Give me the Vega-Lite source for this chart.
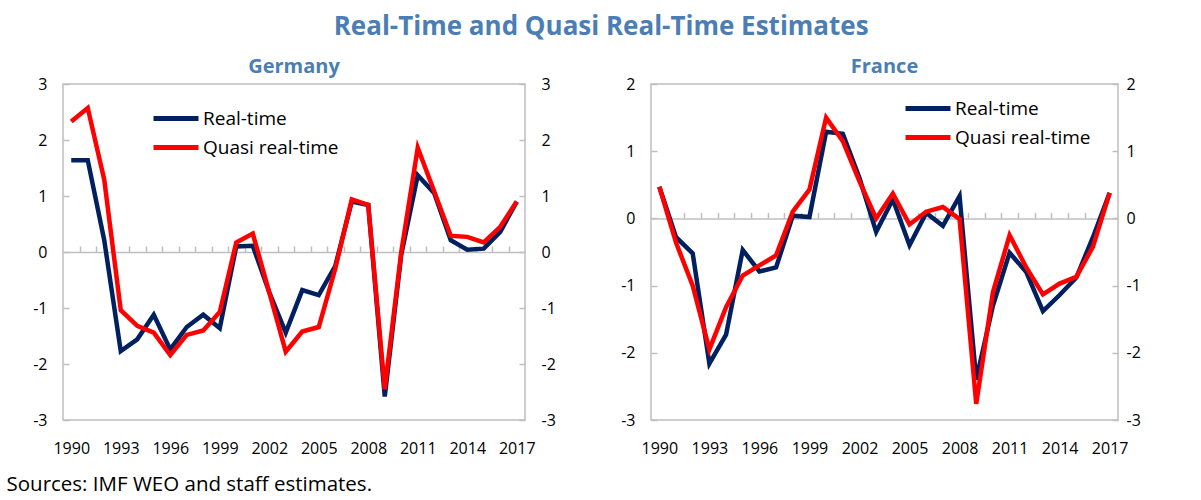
{
  "$schema": "https://vega.github.io/schema/vega-lite/v6.json",
  "background": "white",
  "padding": {"left": 5, "top": 14, "right": 10, "bottom": 5},
  "title": {"text": "Real-Time and Quasi Real-Time Estimates", "fontSize": 26, "font": "Open Sans", "fontWeight": "bold", "color": "#4A7EB5", "anchor": "middle", "offset": 16, "dx": 28},
  "config": {
    "font": "Open Sans",
    "view": {"stroke": "#BFBFBF", "strokeWidth": 1.5},
    "axis": {"grid": false, "labelFont": "Open Sans", "labelFontSize": 16, "labelColor": "black", "domainColor": "#BFBFBF", "tickColor": "#BFBFBF", "domainWidth": 1.5, "tickWidth": 1.5},
    "title": {"font": "Open Sans"}
  },
  "datasets": {
    "de": [
      {"year": 1990, "series": "Real-time", "value": 1.64},
      {"year": 1991, "series": "Real-time", "value": 1.64},
      {"year": 1992, "series": "Real-time", "value": 0.21},
      {"year": 1993, "series": "Real-time", "value": -1.77},
      {"year": 1994, "series": "Real-time", "value": -1.56},
      {"year": 1995, "series": "Real-time", "value": -1.12},
      {"year": 1996, "series": "Real-time", "value": -1.74},
      {"year": 1997, "series": "Real-time", "value": -1.34},
      {"year": 1998, "series": "Real-time", "value": -1.12},
      {"year": 1999, "series": "Real-time", "value": -1.36},
      {"year": 2000, "series": "Real-time", "value": 0.10},
      {"year": 2001, "series": "Real-time", "value": 0.11},
      {"year": 2002, "series": "Real-time", "value": -0.72},
      {"year": 2003, "series": "Real-time", "value": -1.44},
      {"year": 2004, "series": "Real-time", "value": -0.68},
      {"year": 2005, "series": "Real-time", "value": -0.77},
      {"year": 2006, "series": "Real-time", "value": -0.25},
      {"year": 2007, "series": "Real-time", "value": 0.90},
      {"year": 2008, "series": "Real-time", "value": 0.84},
      {"year": 2009, "series": "Real-time", "value": -2.58},
      {"year": 2010, "series": "Real-time", "value": -0.05},
      {"year": 2011, "series": "Real-time", "value": 1.37},
      {"year": 2012, "series": "Real-time", "value": 1.05},
      {"year": 2013, "series": "Real-time", "value": 0.21},
      {"year": 2014, "series": "Real-time", "value": 0.04},
      {"year": 2015, "series": "Real-time", "value": 0.06},
      {"year": 2016, "series": "Real-time", "value": 0.36},
      {"year": 2017, "series": "Real-time", "value": 0.90},
      {"year": 1990, "series": "Quasi real-time", "value": 2.33},
      {"year": 1991, "series": "Quasi real-time", "value": 2.57},
      {"year": 1992, "series": "Quasi real-time", "value": 1.29},
      {"year": 1993, "series": "Quasi real-time", "value": -1.04},
      {"year": 1994, "series": "Quasi real-time", "value": -1.32},
      {"year": 1995, "series": "Quasi real-time", "value": -1.44},
      {"year": 1996, "series": "Quasi real-time", "value": -1.84},
      {"year": 1997, "series": "Quasi real-time", "value": -1.48},
      {"year": 1998, "series": "Quasi real-time", "value": -1.40},
      {"year": 1999, "series": "Quasi real-time", "value": -1.07},
      {"year": 2000, "series": "Quasi real-time", "value": 0.17},
      {"year": 2001, "series": "Quasi real-time", "value": 0.33},
      {"year": 2002, "series": "Quasi real-time", "value": -0.72},
      {"year": 2003, "series": "Quasi real-time", "value": -1.78},
      {"year": 2004, "series": "Quasi real-time", "value": -1.42},
      {"year": 2005, "series": "Quasi real-time", "value": -1.34},
      {"year": 2006, "series": "Quasi real-time", "value": -0.30},
      {"year": 2007, "series": "Quasi real-time", "value": 0.94},
      {"year": 2008, "series": "Quasi real-time", "value": 0.84},
      {"year": 2009, "series": "Quasi real-time", "value": -2.45},
      {"year": 2010, "series": "Quasi real-time", "value": 0.0},
      {"year": 2011, "series": "Quasi real-time", "value": 1.86},
      {"year": 2012, "series": "Quasi real-time", "value": 1.08},
      {"year": 2013, "series": "Quasi real-time", "value": 0.29},
      {"year": 2014, "series": "Quasi real-time", "value": 0.27},
      {"year": 2015, "series": "Quasi real-time", "value": 0.17},
      {"year": 2016, "series": "Quasi real-time", "value": 0.45},
      {"year": 2017, "series": "Quasi real-time", "value": 0.90}
    ],
    "fr": [
      {"year": 1990, "series": "Real-time", "value": 0.47},
      {"year": 1991, "series": "Real-time", "value": -0.28},
      {"year": 1992, "series": "Real-time", "value": -0.52},
      {"year": 1993, "series": "Real-time", "value": -2.16},
      {"year": 1994, "series": "Real-time", "value": -1.73},
      {"year": 1995, "series": "Real-time", "value": -0.47},
      {"year": 1996, "series": "Real-time", "value": -0.79},
      {"year": 1997, "series": "Real-time", "value": -0.73},
      {"year": 1998, "series": "Real-time", "value": 0.04},
      {"year": 1999, "series": "Real-time", "value": 0.02},
      {"year": 2000, "series": "Real-time", "value": 1.29},
      {"year": 2001, "series": "Real-time", "value": 1.26},
      {"year": 2002, "series": "Real-time", "value": 0.60},
      {"year": 2003, "series": "Real-time", "value": -0.20},
      {"year": 2004, "series": "Real-time", "value": 0.28},
      {"year": 2005, "series": "Real-time", "value": -0.40},
      {"year": 2006, "series": "Real-time", "value": 0.08},
      {"year": 2007, "series": "Real-time", "value": -0.11},
      {"year": 2008, "series": "Real-time", "value": 0.33},
      {"year": 2009, "series": "Real-time", "value": -2.40},
      {"year": 2010, "series": "Real-time", "value": -1.30},
      {"year": 2011, "series": "Real-time", "value": -0.51},
      {"year": 2012, "series": "Real-time", "value": -0.80},
      {"year": 2013, "series": "Real-time", "value": -1.38},
      {"year": 2014, "series": "Real-time", "value": -1.14},
      {"year": 2015, "series": "Real-time", "value": -0.88},
      {"year": 2016, "series": "Real-time", "value": -0.28},
      {"year": 2017, "series": "Real-time", "value": 0.38},
      {"year": 1990, "series": "Quasi real-time", "value": 0.47},
      {"year": 1991, "series": "Quasi real-time", "value": -0.36},
      {"year": 1992, "series": "Quasi real-time", "value": -1.00},
      {"year": 1993, "series": "Quasi real-time", "value": -1.95},
      {"year": 1994, "series": "Quasi real-time", "value": -1.32},
      {"year": 1995, "series": "Quasi real-time", "value": -0.85},
      {"year": 1996, "series": "Quasi real-time", "value": -0.70},
      {"year": 1997, "series": "Quasi real-time", "value": -0.55},
      {"year": 1998, "series": "Quasi real-time", "value": 0.10},
      {"year": 1999, "series": "Quasi real-time", "value": 0.43},
      {"year": 2000, "series": "Quasi real-time", "value": 1.50},
      {"year": 2001, "series": "Quasi real-time", "value": 1.15},
      {"year": 2002, "series": "Quasi real-time", "value": 0.55},
      {"year": 2003, "series": "Quasi real-time", "value": 0.00},
      {"year": 2004, "series": "Quasi real-time", "value": 0.37},
      {"year": 2005, "series": "Quasi real-time", "value": -0.09},
      {"year": 2006, "series": "Quasi real-time", "value": 0.10},
      {"year": 2007, "series": "Quasi real-time", "value": 0.17},
      {"year": 2008, "series": "Quasi real-time", "value": -0.01},
      {"year": 2009, "series": "Quasi real-time", "value": -2.76},
      {"year": 2010, "series": "Quasi real-time", "value": -1.10},
      {"year": 2011, "series": "Quasi real-time", "value": -0.25},
      {"year": 2012, "series": "Quasi real-time", "value": -0.73},
      {"year": 2013, "series": "Quasi real-time", "value": -1.13},
      {"year": 2014, "series": "Quasi real-time", "value": -0.97},
      {"year": 2015, "series": "Quasi real-time", "value": -0.87},
      {"year": 2016, "series": "Quasi real-time", "value": -0.42},
      {"year": 2017, "series": "Quasi real-time", "value": 0.38}
    ]
  },
  "spacing": 62,
  "resolve": {"scale": {"color": "independent"}},
  "hconcat": [
    {
      "title": {"text": "Germany", "fontSize": 20, "fontWeight": "bold", "color": "#4A7EB5", "offset": -1},
      "width": 462,
      "height": 336,
      "data": {"name": "de"},
      "resolve": {"axis": {"x": "independent", "y": "independent"}},
      "layer": [
        {
          "mark": {"type": "line", "strokeWidth": 4.5, "strokeJoin": "miter"},
          "encoding": {
            "x": {"field": "year", "type": "quantitative", "scale": {"domain": [1989.5, 2017.5], "nice": false, "zero": false},
                  "axis": {"values": [1990, 1993, 1996, 1999, 2002, 2005, 2008, 2011, 2014, 2017], "format": "d", "domain": false, "ticks": false, "labelPadding": 20, "labelFlush": false,
                           "title": "Sources: IMF WEO and staff estimates.", "titleFont": "Open Sans", "titleFontSize": 20.5, "titleFontWeight": "normal", "titleColor": "black", "titleAnchor": "start", "titleAlign": "left", "titleX": -57, "titleY": 64, "titleBaseline": "middle"}},
            "y": {"field": "value", "type": "quantitative", "scale": {"domain": [-3, 3], "nice": false},
                  "axis": {"values": [-3, -2, -1, 0, 1, 2, 3], "labelExpr": "datum.value + ''", "title": null, "domain": false, "tickSize": -6, "labelPadding": 22}},
            "color": {"field": "series", "type": "nominal", "scale": {"domain": ["Real-time", "Quasi real-time"], "range": ["#002060", "#FF0000"]},
                      "legend": {"orient": "none", "legendX": 88, "legendY": 20, "title": null, "symbolType": "stroke", "symbolStrokeWidth": 5, "symbolSize": 2025, "labelFontSize": 19, "labelFont": "Open Sans", "labelColor": "black", "labelOffset": 2, "clipHeight": 29, "rowPadding": 0, "padding": 0}}
          }
        },
        {
          "mark": {"type": "point", "opacity": 0},
          "encoding": {
            "x": {"field": "year", "type": "quantitative",
                  "axis": {"orient": "top", "values": [1990.5, 1991.5, 1992.5, 1993.5, 1994.5, 1995.5, 1996.5, 1997.5, 1998.5, 1999.5, 2000.5, 2001.5, 2002.5, 2003.5, 2004.5, 2005.5, 2006.5, 2007.5, 2008.5, 2009.5, 2010.5, 2011.5, 2012.5, 2013.5, 2014.5, 2015.5, 2016.5], "labels": false, "title": null, "offset": -168, "tickSize": 6}},
            "y": {"field": "value", "type": "quantitative",
                  "axis": {"orient": "right", "values": [-3, -2, -1, 0, 1, 2, 3], "labelExpr": "datum.value + ''", "title": null, "domain": false, "tickSize": -6, "labelPadding": 22}}
          }
        }
      ]
    },
    {
      "title": {"text": "France", "fontSize": 20, "fontWeight": "bold", "color": "#4A7EB5", "offset": -1},
      "width": 467,
      "height": 336,
      "data": {"name": "fr"},
      "resolve": {"axis": {"x": "independent", "y": "independent"}},
      "layer": [
        {
          "mark": {"type": "line", "strokeWidth": 4.5, "strokeJoin": "miter"},
          "encoding": {
            "x": {"field": "year", "type": "quantitative", "scale": {"domain": [1989.5, 2017.5], "nice": false, "zero": false},
                  "axis": {"values": [1990, 1993, 1996, 1999, 2002, 2005, 2008, 2011, 2014, 2017], "format": "d", "domain": false, "ticks": false, "labelPadding": 20, "labelFlush": false, "title": null}},
            "y": {"field": "value", "type": "quantitative", "scale": {"domain": [-3, 2], "nice": false},
                  "axis": {"values": [-3, -2, -1, 0, 1, 2], "labelExpr": "datum.value + ''", "title": null, "domain": false, "tickSize": -6, "labelPadding": 22}},
            "color": {"field": "series", "type": "nominal", "scale": {"domain": ["Real-time", "Quasi real-time"], "range": ["#002060", "#FF0000"]},
                      "legend": {"orient": "none", "legendX": 252, "legendY": 10, "title": null, "symbolType": "stroke", "symbolStrokeWidth": 5, "symbolSize": 2025, "labelFontSize": 19, "labelFont": "Open Sans", "labelColor": "black", "labelOffset": 2, "clipHeight": 29, "rowPadding": 0, "padding": 0}}
          }
        },
        {
          "mark": {"type": "point", "opacity": 0},
          "encoding": {
            "x": {"field": "year", "type": "quantitative",
                  "axis": {"orient": "top", "values": [1990.5, 1991.5, 1992.5, 1993.5, 1994.5, 1995.5, 1996.5, 1997.5, 1998.5, 1999.5, 2000.5, 2001.5, 2002.5, 2003.5, 2004.5, 2005.5, 2006.5, 2007.5, 2008.5, 2009.5, 2010.5, 2011.5, 2012.5, 2013.5, 2014.5, 2015.5, 2016.5], "labels": false, "title": null, "offset": -134.4, "tickSize": 6}},
            "y": {"field": "value", "type": "quantitative",
                  "axis": {"orient": "right", "values": [-3, -2, -1, 0, 1, 2], "labelExpr": "datum.value + ''", "title": null, "domain": false, "tickSize": -6, "labelPadding": 14}}
          }
        }
      ]
    }
  ]
}
